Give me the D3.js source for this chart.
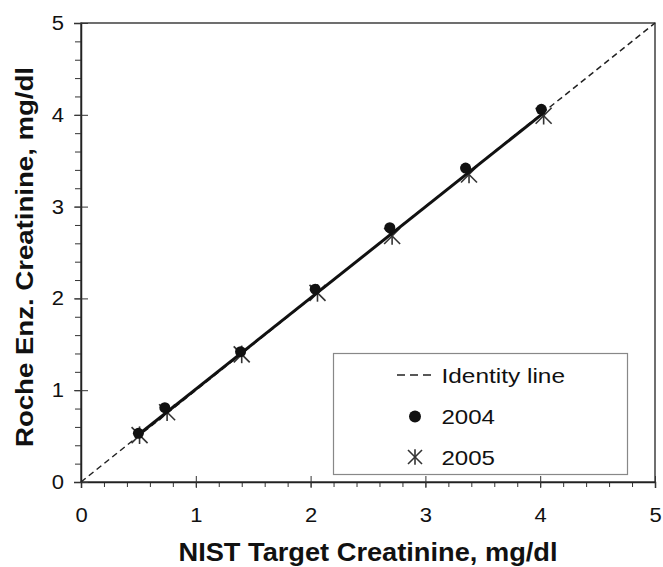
<!DOCTYPE html>
<html>
<head>
<meta charset="utf-8">
<script src="https://cdn.jsdelivr.net/npm/d3@7/dist/d3.min.js"></script>
<style>
  html, body { margin: 0; padding: 0; background: #fff; }
  svg { display: block; }
  text { font-family: "Liberation Sans", Arial, sans-serif; fill: #111; }
</style>
</head>
<body>
<svg id="chart" width="663" height="567"></svg>
<script>
// ---- data ----
const x2004 = [0.50, 0.73, 1.39, 2.04, 2.69, 3.35, 4.01];
const y2004 = [0.53, 0.81, 1.42, 2.10, 2.77, 3.42, 4.06];
const x2005 = [0.51, 0.75, 1.40, 2.06, 2.71, 3.38, 4.03];
const y2005 = [0.51, 0.76, 1.39, 2.06, 2.68, 3.35, 3.99];
const fitX = [0.50, 4.02];
const fitY = [0.515, 4.01];
const identityX = [0, 5];
const identityY = [0, 5];
const xTicks = [0, 1, 2, 3, 4, 5];
const yTicks = [0, 1, 2, 3, 4, 5];
const legendLabels = ["Identity line", "2004", "2005"];
const xTitle = "NIST Target Creatinine, mg/dl";
const yTitle = "Roche Enz. Creatinine, mg/dl";

// ---- layout ----
const svg = d3.select("#chart");
const L = 81, R = 655, T = 23, B = 482;
const x = d3.scaleLinear().domain([0, 5]).range([L, R]);
const y = d3.scaleLinear().domain([0, 5]).range([B, T]);
const minor = d3.range(0, 5.0001, 0.2);
const FONT = "Liberation Sans, Arial, sans-serif";

function stretch(sel, f) {
  sel.each(function () {
    const w = this.getComputedTextLength();
    d3.select(this).attr("textLength", w * f).attr("lengthAdjust", "spacingAndGlyphs");
  });
}

// frame
svg.append("rect").attr("x", L).attr("y", T).attr("width", R - L).attr("height", B - T)
  .attr("fill", "none").attr("stroke", "#222").attr("stroke-width", 1.3);

// x axis minor ticks
svg.append("g").attr("transform", `translate(0,${B})`)
  .call(d3.axisBottom(x).tickValues(minor).tickSize(5).tickFormat(""))
  .call(g => g.select(".domain").remove())
  .call(g => g.selectAll("line").attr("stroke", "#333").attr("stroke-width", 1));
// x axis major ticks (cross)
svg.append("g").attr("transform", `translate(0,${B})`)
  .call(d3.axisBottom(x).tickValues(xTicks).tickSize(6).tickPadding(16).tickFormat(d3.format("d")))
  .call(g => g.select(".domain").attr("stroke", "#222").attr("stroke-width", 1.5))
  .call(g => g.selectAll("line").attr("stroke", "#333").attr("stroke-width", 1).attr("y1", -6))
  .call(g => g.selectAll("text").attr("font-size", 20).attr("font-family", FONT).attr("fill", "#111")
    .attr("y", 40).attr("dy", 0).call(stretch, 1.1));

// y axis minor ticks
svg.append("g").attr("transform", `translate(${L},0)`)
  .call(d3.axisLeft(y).tickValues(minor).tickSize(6).tickFormat(""))
  .call(g => g.select(".domain").remove())
  .call(g => g.selectAll("line").attr("stroke", "#333").attr("stroke-width", 1));
// y axis major ticks
svg.append("g").attr("transform", `translate(${L},0)`)
  .call(d3.axisLeft(y).tickValues(yTicks).tickSize(7).tickPadding(10).tickFormat(d3.format("d")))
  .call(g => g.select(".domain").attr("stroke", "#222").attr("stroke-width", 1.5))
  .call(g => g.selectAll("line").attr("stroke", "#333").attr("stroke-width", 1).attr("x1", 7))
  .call(g => g.selectAll("text").attr("font-size", 20).attr("font-family", FONT).attr("fill", "#111")
    .call(stretch, 1.1));

// identity line
const line = d3.line().x(d => x(d[0])).y(d => y(d[1]));
svg.append("path").datum(d3.zip(identityX, identityY)).attr("d", line)
  .attr("fill", "none").attr("stroke", "#222").attr("stroke-width", 1.5).attr("stroke-dasharray", "6,4");

// 2005 asterisks
const ast = (g, s) => {
  g.append("line").attr("x1", -s).attr("y1", -s).attr("x2", s).attr("y2", s);
  g.append("line").attr("x1", -s).attr("y1", s).attr("x2", s).attr("y2", -s);
  g.append("line").attr("x1", 0).attr("y1", -s * 1.1).attr("x2", 0).attr("y2", s * 1.1);
};
d3.zip(x2005, y2005).forEach(d => {
  const g = svg.append("g").attr("transform", `translate(${x(d[0])},${y(d[1])})`)
    .attr("stroke", "#333").attr("stroke-width", 1.6);
  ast(g, 8);
});

// 2004 circles
svg.append("g").selectAll("circle").data(d3.zip(x2004, y2004)).join("circle")
  .attr("cx", d => x(d[0])).attr("cy", d => y(d[1])).attr("r", 5.5).attr("fill", "#111");

// fit line
svg.append("path").datum(d3.zip(fitX, fitY)).attr("d", line)
  .attr("fill", "none").attr("stroke", "#111").attr("stroke-width", 3);

// legend
const lg = svg.append("g");
lg.append("rect").attr("x", 333.5).attr("y", 353.5).attr("width", 294).attr("height", 121)
  .attr("fill", "#fff").attr("stroke", "#888").attr("stroke-width", 1.2);
lg.append("line").attr("x1", 397).attr("x2", 432).attr("y1", 375).attr("y2", 375)
  .attr("stroke", "#222").attr("stroke-width", 1.5).attr("stroke-dasharray", "8,5");
lg.append("circle").attr("cx", 415).attr("cy", 416.5).attr("r", 6).attr("fill", "#111");
const la = lg.append("g").attr("transform", "translate(415,457)").attr("stroke", "#333").attr("stroke-width", 1.6);
ast(la, 7);
const legendWidths = [123.5, 53.5, 53.5];
[375, 416.5, 457].forEach((yy, i) => {
  lg.append("text").attr("x", 441.5).attr("y", yy).attr("dy", "0.36em")
    .attr("font-size", 21).attr("textLength", legendWidths[i]).attr("lengthAdjust", "spacingAndGlyphs")
    .text(legendLabels[i]);
});

// axis titles
svg.append("text").attr("x", 178.5).attr("y", 561)
  .attr("font-size", 25).attr("font-weight", "bold")
  .attr("textLength", 379).attr("lengthAdjust", "spacingAndGlyphs").text(xTitle);
svg.append("text").attr("transform", `translate(33,447) rotate(-90)`)
  .attr("font-size", 23.5).attr("font-weight", "bold")
  .attr("textLength", 380).attr("lengthAdjust", "spacingAndGlyphs").text(yTitle);
</script>
</body>
</html>
